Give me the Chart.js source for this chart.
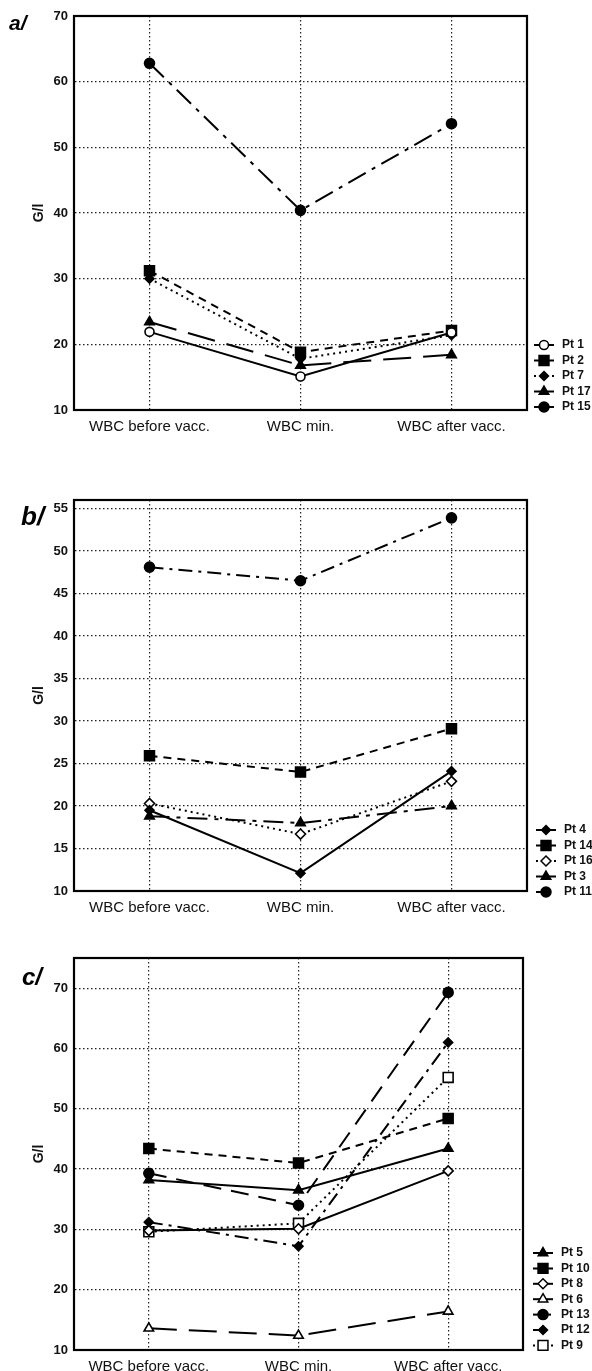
<!DOCTYPE html>
<html>
<head>
<meta charset="utf-8">
<script src="https://cdn.jsdelivr.net/npm/chart.js@4.4.1/dist/chart.umd.min.js"></script>
<style>
  body { margin: 0; background: #fff; }
  #wrap { position: relative; width: 592px; height: 1371px; overflow: hidden; }
  canvas { position: absolute; left: 0; }
</style>
</head>
<body>
<div id="wrap">
  <canvas id="chartA" width="592" height="440" style="top:0px"></canvas>
  <canvas id="chartB" width="592" height="490" style="top:440px"></canvas>
  <canvas id="chartC" width="592" height="441" style="top:930px"></canvas>
</div>
<script>
// categories shared by all three panels
var categories = ['WBC before vacc.', 'WBC min.', 'WBC after vacc.'];

// panel a/
var aLabels = ['Pt 1', 'Pt 2', 'Pt 7', 'Pt 17', 'Pt 15'];
var aPt1 = [21.9, 15.1, 21.8];
var aPt2 = [31.2, 18.8, 22.1];
var aPt7 = [30.0, 17.8, 21.4];
var aPt17 = [23.4, 16.8, 18.4];
var aPt15 = [62.8, 40.4, 53.6];
var aTicks = [10, 70, 10];   // min, max, step

// panel b/
var bLabels = ['Pt 4', 'Pt 14', 'Pt 16', 'Pt 3', 'Pt 11'];
var bPt4 = [19.5, 12.1, 24.1];
var bPt14 = [25.9, 24.0, 29.1];
var bPt16 = [20.3, 16.7, 22.9];
var bPt3 = [18.8, 18.0, 20.0];
var bPt11 = [48.1, 46.5, 53.9];
var bTicks = [10, 56, 5];

// panel c/
var cLabels = ['Pt 5', 'Pt 10', 'Pt 8', 'Pt 6', 'Pt 13', 'Pt 12', 'Pt 9'];
var cPt5 = [38.2, 36.5, 43.4];
var cPt10 = [43.4, 41.0, 48.4];
var cPt8 = [29.8, 30.1, 39.7];
var cPt6 = [13.6, 12.4, 16.4];
var cPt13 = [39.3, 34.0, 69.3];
var cPt12 = [31.2, 27.2, 61.0];
var cPt9 = [29.6, 31.0, 55.2];
var cTicks = [10, 75, 10];

var FONT = "'Liberation Sans', Arial, sans-serif";

// line styles
var SOLID = [];
var SHORT = [8, 6];
var DOTS = [2, 4];
var LONG = [28, 12];
var LONGDOT = [20, 7, 4, 7];
var DASHDOT = [14, 6, 3, 6];

function series(label, data, dash, style, radius, open) {
    return {
        label: label,
        data: data,
        borderColor: '#000',
        borderWidth: 2,
        borderDash: dash,
        fill: false,
        tension: 0,
        pointStyle: style,
        pointRadius: radius,
        pointHoverRadius: radius,
        pointBackgroundColor: open ? '#fff' : '#000',
        pointBorderColor: '#000',
        pointBorderWidth: 1.6
    };
}

// frame, panel letter and the little legend on the right
var panelDecor = {
    id: 'panelDecor',
    afterDraw: function (chart, args, opts) {
        var ctx = chart.ctx;
        var a = chart.chartArea;
        ctx.save();
        ctx.strokeStyle = '#000';
        ctx.lineWidth = 2.2;
        ctx.setLineDash([]);
        ctx.strokeRect(a.left, a.top, a.right - a.left, a.bottom - a.top);

        ctx.fillStyle = '#000';
        ctx.font = 'bold italic ' + opts.letterSize + 'px ' + FONT;
        ctx.textBaseline = 'alphabetic';
        ctx.fillText(opts.letter, opts.letterX, opts.letterY);

        chart.data.datasets.forEach(function (ds, i) {
            var y = opts.legendY + i * opts.legendStep;
            var x = opts.legendX;
            ctx.lineWidth = 2;
            ctx.strokeStyle = '#000';
            ctx.setLineDash(ds.borderDash);
            ctx.beginPath();
            ctx.moveTo(x - 10, y);
            ctx.lineTo(x + 10, y);
            ctx.stroke();
            ctx.setLineDash([]);
            ctx.lineWidth = 1.5;
            ctx.fillStyle = ds.pointBackgroundColor;
            Chart.helpers.drawPoint(ctx, {
                pointStyle: ds.pointStyle,
                radius: ds.pointRadius,
                borderWidth: 1.5,
                rotation: 0
            }, x, y);
            ctx.fillStyle = '#111';
            ctx.font = 'bold 12px ' + FONT;
            ctx.textBaseline = 'middle';
            ctx.fillText(ds.label, x + 18, y);
        });
        ctx.restore();
    }
};

function renderChart(id, datasets, ticks, box, decor) {
    var gridColor = '#222';
    new Chart(document.getElementById(id), {
        type: 'line',
        data: { labels: categories, datasets: datasets },
        options: {
            responsive: false,
            animation: false,
            layout: { padding: { left: 0, right: box.right, top: box.top, bottom: 0 } },
            plugins: {
                legend: { display: false },
                tooltip: { enabled: false },
                panelDecor: decor
            },
            scales: {
                x: {
                    offset: true,
                    grid: { color: gridColor, lineWidth: 1.2, drawTicks: false, offset: false },
                    border: { display: true, color: '#000', width: 2, dash: [1.5, 2.5] },
                    ticks: {
                        autoSkip: false, maxRotation: 0, padding: 8, color: '#111',
                        font: { family: FONT, size: 15 }
                    },
                    afterFit: function (s) { s.height = box.xh; }
                },
                y: {
                    min: ticks[0],
                    max: ticks[1],
                    grid: { color: gridColor, lineWidth: 1.2, drawTicks: false },
                    border: { display: true, color: '#000', width: 2, dash: [1.5, 2.5] },
                    ticks: {
                        stepSize: ticks[2], includeBounds: false, padding: 6, color: '#111',
                        font: { family: FONT, size: 13, weight: 'bold' }
                    },
                    title: {
                        display: true, text: 'G/l', color: '#111',
                        font: { family: FONT, size: 14, weight: 'bold' },
                        padding: { top: 31, bottom: 0 }
                    },
                    afterFit: function (s) { s.width = 74; }
                }
            }
        },
        plugins: [panelDecor]
    });
}

renderChart('chartA', [
    series(aLabels[0], aPt1, SOLID, 'circle', 4.5, true),
    series(aLabels[1], aPt2, SHORT, 'rect', 7, false),
    series(aLabels[2], aPt7, DOTS, 'rectRot', 4.5, false),
    series(aLabels[3], aPt17, LONG, 'triangle', 5.5, false),
    series(aLabels[4], aPt15, LONGDOT, 'circle', 5, false)
], aTicks, { top: 16, right: 65, xh: 30 },
   { letter: 'a/', letterSize: 21, letterX: 9, letterY: 30,
     legendX: 544, legendY: 345, legendStep: 15.5 });

renderChart('chartB', [
    series(bLabels[0], bPt4, SOLID, 'rectRot', 4.5, false),
    series(bLabels[1], bPt14, SHORT, 'rect', 7, false),
    series(bLabels[2], bPt16, DOTS, 'rectRot', 5, true),
    series(bLabels[3], bPt3, LONGDOT, 'triangle', 5.5, false),
    series(bLabels[4], bPt11, DASHDOT, 'circle', 5, false)
], bTicks, { top: 60, right: 65, xh: 39 },
   { letter: 'b/', letterSize: 26, letterX: 21, letterY: 85,
     legendX: 546, legendY: 390, legendStep: 15.5 });

renderChart('chartC', [
    series(cLabels[0], cPt5, SOLID, 'triangle', 5.5, false),
    series(cLabels[1], cPt10, SHORT, 'rect', 7, false),
    series(cLabels[2], cPt8, SOLID, 'rectRot', 5, true),
    series(cLabels[3], cPt6, LONG, 'triangle', 5.5, true),
    series(cLabels[4], cPt13, [18, 10], 'circle', 5, false),
    series(cLabels[5], cPt12, DASHDOT, 'rectRot', 4.5, false),
    series(cLabels[6], cPt9, DOTS, 'rect', 7, true)
], cTicks, { top: 28, right: 69, xh: 21 },
   { letter: 'c/', letterSize: 24, letterX: 22, letterY: 55,
     legendX: 543, legendY: 323, legendStep: 15.4 });
</script>
</body>
</html>
